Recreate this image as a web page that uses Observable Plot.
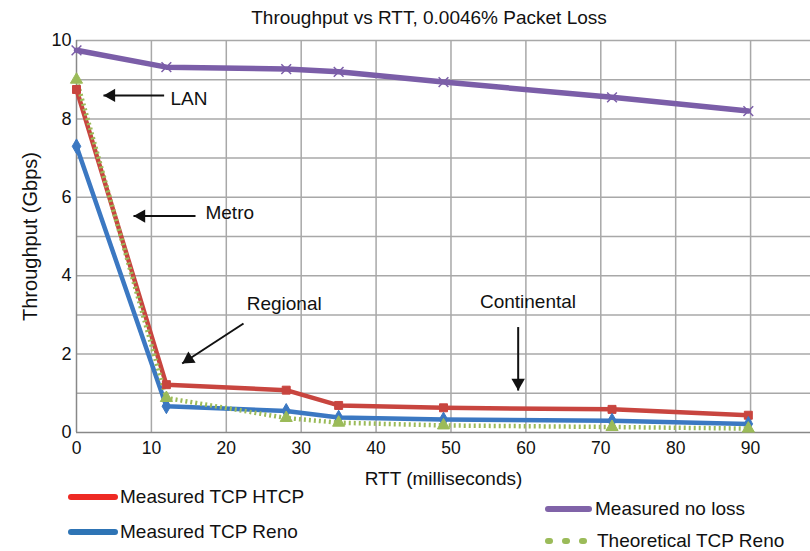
<!DOCTYPE html>
<html>
<head>
<meta charset="utf-8">
<script src="https://cdn.jsdelivr.net/npm/d3@7"></script>
<script src="https://cdn.jsdelivr.net/npm/@observablehq/plot@0.6"></script>
<style>
  html, body { margin: 0; padding: 0; background: #fff; }
  #root { position: relative; width: 810px; height: 551px; overflow: hidden;
          font-family: "Liberation Sans", Arial, sans-serif; color: #111; }
  #title { position: absolute; left: 0; top: 8px; width: 858px; text-align: center; font-size: 19px; line-height: 19px; }
  #chart { position: absolute; left: 0; top: 30px; }
  .leg { position: absolute; font-size: 19px; line-height: 19px; height: 19px; display: flex; align-items: center; white-space: nowrap; }
  .sw { display: inline-block; width: 50px; height: 6px; border-radius: 3px; margin-right: 2px; }
  .dots { display: inline-flex; width: 52px; justify-content: flex-start; gap: 9px; margin-right: 0px; }
  .dots i { display: inline-block; width: 8px; height: 6px; border-radius: 4px; background: #9bbb59; }
</style>
</head>
<body>
<div id="root">
  <div id="title">Throughput vs RTT, 0.0046% Packet Loss</div>
  <div id="chart"></div>
  <div class="leg" style="left:68px; top:487px;"><span class="sw" style="background:#ee2a24"></span>Measured TCP HTCP</div>
  <div class="leg" style="left:68px; top:522px;"><span class="sw" style="background:#2e74b5"></span>Measured TCP Reno</div>
  <div class="leg" style="left:545px; top:499px;"><span class="sw" style="background:#8063a8;width:47px;margin-right:3px"></span>Measured no loss</div>
  <div class="leg" style="left:545px; top:531px;"><span class="dots"><i></i><i></i><i></i></span>Theoretical TCP Reno</div>
</div>
<script>
// RTT values (milliseconds)
const rtt = [0, 12, 28, 35, 49, 71.5, 89.7];
// Throughput (Gbps)
const htcp   = [8.75, 1.22, 1.08, 0.69, 0.63, 0.59, 0.44];
const reno   = [7.30, 0.67, 0.55, 0.38, 0.33, 0.30, 0.22];
const noLoss = [9.75, 9.32, 9.27, 9.20, 8.94, 8.55, 8.20];
const theory = [9.00, 0.88, 0.37, 0.25, 0.18, 0.14, 0.10];
// Axis ticks
const xTicks = [0, 10, 20, 30, 40, 50, 60, 70, 80, 90];
const yTicks = [0, 2, 4, 6, 8, 10];
// Annotations (data coordinates)
const annLabels = ["LAN", "Metro", "Regional", "Continental"];
const annX      = [12.55, 17.22, 27.73, 60.28];
const annY      = [8.51, 5.59, 3.29, 3.32];
const arrowX1 = [11.7, 15.89, 22.3, 58.97];
const arrowY1 = [8.6, 5.52, 2.78, 2.69];
const arrowX2 = [3.6, 7.61, 14.11, 58.97];
const arrowY2 = [8.6, 5.52, 1.76, 1.07];
const headRotate = [-90, -90, -123, 180];

const series = [
  {name: "Measured no loss", values: noLoss, color: "#7b5ea8", width: 5.5, symbol: "times"},
  {name: "Measured TCP HTCP", values: htcp, color: "#c8453f", width: 4.5, symbol: "square"},
  {name: "Measured TCP Reno", values: reno, color: "#3b78c2", width: 4.5, symbol: "diamond"},
  {name: "Theoretical TCP Reno", values: theory, color: "#9bbb59", width: 4.5, symbol: "triangle", dash: "2,3"}
];
const rows = series.flatMap(s => rtt.map((x, i) => ({series: s.name, x, y: s.values[i]})));
const anns = annLabels.map((t, i) => ({t, x: annX[i], y: annY[i]}));
const arrows = arrowX1.map((x1, i) => ({x1, y1: arrowY1[i], x2: arrowX2[i], y2: arrowY2[i], rot: headRotate[i]}));

const font = "'Liberation Sans', Arial, sans-serif";
const marks = [
  Plot.gridX(d3.range(10, 100, 10), {stroke: "#a8a8a8", strokeOpacity: 1, strokeWidth: 1.5}),
  Plot.gridY(d3.range(1, 11), {stroke: "#a8a8a8", strokeOpacity: 1, strokeWidth: 1.5}),
  Plot.ruleX([0], {stroke: "#888", strokeWidth: 1.5}),
  Plot.ruleY([0], {stroke: "#888", strokeWidth: 1.5}),
  Plot.axisX(xTicks, {tickSize: 0, tickPadding: 9, fontSize: 17.5, label: null}),
  Plot.axisX({label: "RTT (milliseconds)", ticks: [], tickSize: 0, fontSize: 19, labelAnchor: "center", labelArrow: "none", labelOffset: 52}),
  Plot.axisY(yTicks, {tickSize: 0, tickPadding: 5, fontSize: 18, label: null}),
  Plot.axisY({label: "Throughput (Gbps)", ticks: [], tickSize: 0, fontSize: 20, labelAnchor: "center", labelArrow: "none", labelOffset: 54})
];
for (const s of series) {
  const data = rows.filter(d => d.series === s.name);
  marks.push(Plot.line(data, {x: "x", y: "y", stroke: s.color, strokeWidth: s.width, strokeDasharray: s.dash, strokeLinecap: s.dash ? "butt" : "round", strokeLinejoin: "round"}));
}
for (const s of series) {
  const data = rows.filter(d => d.series === s.name);
  marks.push(Plot.dot(data, {x: "x", y: "y", symbol: s.symbol, r: 4.5, fill: s.symbol === "times" ? "none" : s.color, stroke: s.color, strokeWidth: s.symbol === "times" ? 1.5 : 1}));
}
marks.push(Plot.link(arrows, {x1: "x1", y1: "y1", x2: "x2", y2: "y2", stroke: "#111", strokeWidth: 2}));
for (const a of arrows) {
  const t = a.rot * Math.PI / 180;
  marks.push(Plot.dot([a], {x: "x2", y: "y2", symbol: "triangle", r: 5, rotate: a.rot, fill: "#111", stroke: "none",
    dx: -7.8 * Math.sin(t), dy: 7.8 * Math.cos(t)}));
}
marks.push(
  Plot.text(anns.filter(d => d.t === "LAN" || d.t === "Metro"), {x: "x", y: "y", text: "t", fontSize: 19, fill: "#111", textAnchor: "start"}),
  Plot.text(anns.filter(d => d.t !== "LAN" && d.t !== "Metro"), {x: "x", y: "y", text: "t", fontSize: 19, fill: "#111", textAnchor: "middle"})
);

const chart = Plot.plot({
  width: 810, height: 460,
  marginLeft: 76, marginRight: 0, marginTop: 10, marginBottom: 58,
  x: {domain: [0, 98]},
  y: {domain: [0, 10]},
  style: {fontFamily: font, fontSize: "17px", color: "#111", background: "white"},
  marks
});
document.getElementById("chart").appendChild(chart);
</script>
</body>
</html>
